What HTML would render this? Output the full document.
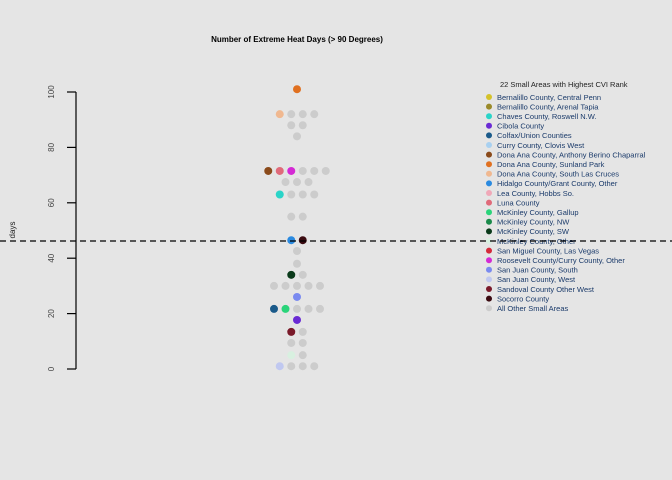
<!DOCTYPE html>
<html><head><meta charset="utf-8"><style>
body{margin:0;background:#e5e5e5;}
svg{display:block;font-family:"Liberation Sans",sans-serif;}
</style></head><body>
<svg id="chart" width="672" height="480" viewBox="0 0 672 480">
<rect width="672" height="480" fill="#e5e5e5"/>
<text x="297" y="42" text-anchor="middle" font-size="8" font-weight="bold" fill="#000">Number of Extreme Heat Days (&gt; 90 Degrees)</text>
<text transform="translate(15,230) rotate(-90)" text-anchor="middle" font-size="8" fill="#222">days</text>
<g id="yaxis"></g>
<g id="dots"></g>
<g id="legend"></g>
<line id="refline" stroke="#000" stroke-width="1.2" stroke-dasharray="6,4"/>
</svg>
<script>
const yTicks=[0,20,40,60,80,100];
const refValue=46.2;
const legendLabels=["Bernalillo County, Central Penn","Bernalillo County, Arenal Tapia","Chaves County, Roswell N.W.","Cibola County","Colfax/Union Counties","Curry County, Clovis West","Dona Ana County, Anthony Berino Chaparral","Dona Ana County, Sunland Park","Dona Ana County, South Las Cruces","Hidalgo County/Grant County, Other","Lea County, Hobbs So.","Luna County","McKinley County, Gallup","McKinley County, NW","McKinley County, SW","McKinley County, Other","San Miguel County, Las Vegas","Roosevelt County/Curry County, Other","San Juan County, South","San Juan County, West","Sandoval County Other West","Socorro County","All Other Small Areas"];
const legendColors=["#d4c22a","#9a8a2a","#2ad4c8","#6a2ad4","#1a5a8a","#a8d0f0","#8a4a1a","#e07020","#f0b890","#2a8ae0","#f0a8b8","#e06a7a","#2ad47a","#1a8a4a","#0a3a1a","#d8f0e0","#d42a3a","#d42ad4","#7a8af0","#c0c8f0","#7a1a2a","#3a0a10","#cccccc"];
// dot values (days), in row order; colour index into legendColors
const dotValues=[101,92,92,92,92,88,88,84,71.5,71.5,71.5,71.5,71.5,71.5,67.5,67.5,67.5,63,63,63,63,55,55,46.5,46.5,42.6,38,34,34,30,30,30,30,30,26,21.7,21.7,21.7,21.7,21.7,17.7,13.4,13.4,9.4,9.4,5,5,1,1,1,1];
const dotColorIdx=[7,8,22,22,22,22,22,22,6,11,17,22,22,22,22,22,22,2,22,22,22,22,22,9,21,22,22,14,22,22,22,22,22,22,18,4,12,22,22,22,3,20,22,22,22,15,22,19,22,22,22];
const NS="http://www.w3.org/2000/svg";
const y0=369,y100=92;
function yScale(v){return y0+(y100-y0)*v/100;}
const cx=297,step=11.5;
function mk(t,a,p){const e=document.createElementNS(NS,t);for(const k in a)e.setAttribute(k,a[k]);p.appendChild(e);return e;}
const ya=document.getElementById('yaxis');
const al=mk('line',{x1:76,x2:76,y1:yScale(0),y2:yScale(100),stroke:'#000','stroke-width':1.2},ya);


yTicks.forEach(t=>{
  const l=mk('line',{x1:67,x2:76,y1:yScale(t),y2:yScale(t),stroke:'#000','stroke-width':1.2},ya);
  
  
  const tx=mk('text',{transform:`translate(54,${yScale(t)}) rotate(-90)`,'text-anchor':'middle','font-size':'8',fill:'#444'},ya);
  tx.textContent=t;
  
  
});
const dg=document.getElementById('dots');
const groups={};
dotValues.forEach((v,i)=>{(groups[v]=groups[v]||[]).push(i);});
Object.keys(groups).forEach(k=>{
  const idx=groups[k];const n=idx.length;
  idx.forEach((i,j)=>{
    const c=mk('circle',{cx:cx+(j-(n-1)/2)*step,cy:yScale(dotValues[i]),r:4,fill:legendColors[dotColorIdx[i]]},dg);
    
    
  });
});
const lg=document.getElementById('legend');
const lt=mk('text',{x:500,y:87,'font-size':'7.5',fill:'#222'},lg);
lt.textContent="22 Small Areas with Highest CVI Rank";


legendLabels.forEach((s,i)=>{
  const y=97+i*9.6;
  const c=mk('circle',{cx:489,cy:y,r:3,fill:legendColors[i]},lg);
  
  
  const t=mk('text',{x:497,y:y+2.8,'font-size':'7.5',fill:'#1a3a6a'},lg);
  t.textContent=s;
  
  
});
const rl=document.getElementById('refline');
rl.setAttribute('x1',0);rl.setAttribute('x2',672);
rl.setAttribute('y1',yScale(refValue));rl.setAttribute('y2',yScale(refValue));
</script>
</body></html>
